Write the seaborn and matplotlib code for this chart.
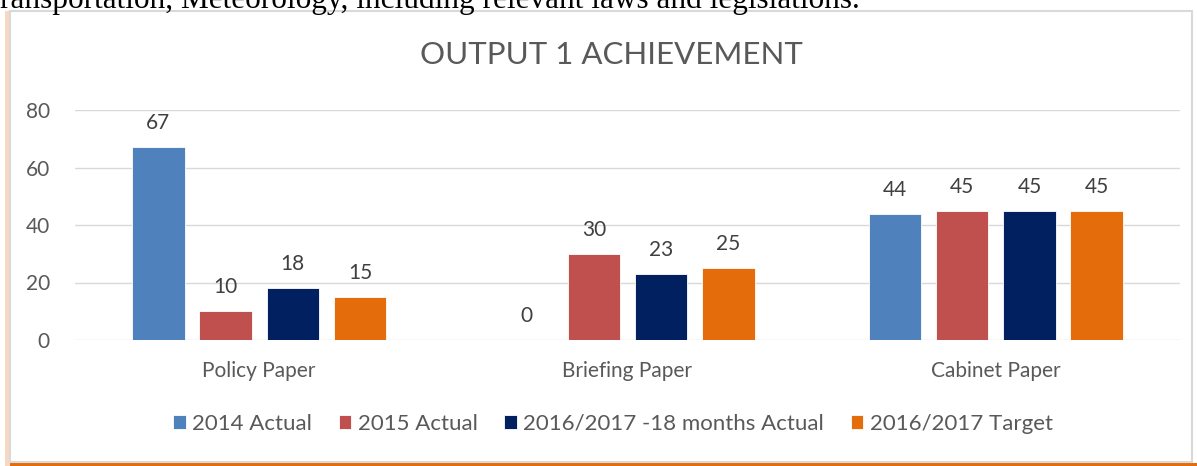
import matplotlib
matplotlib.use("Agg")
import matplotlib.pyplot as plt
from matplotlib.patches import Rectangle
import seaborn as sns
import pandas as pd

categories = ["Policy Paper", "Briefing Paper", "Cabinet Paper"]
series = ["2014 Actual", "2015 Actual", "2016/2017 -18 months Actual", "2016/2017 Target"]
v2014 = [67, 0, 44]
v2015 = [10, 30, 45]
v1618 = [18, 23, 45]
vtarget = [15, 25, 45]
colors = ["#4F81BD", "#C0504D", "#002060", "#E46C0A"]
yticks = [0, 20, 40, 60, 80]

rows = []
for s, vals in zip(series, [v2014, v2015, v1618, vtarget]):
    for c, v in zip(categories, vals):
        rows.append({"category": c, "series": s, "value": v})
df = pd.DataFrame(rows)

sns.set_theme(style="white")
plt.rcParams["font.family"] = ["Lato", "DejaVu Sans"]
txt = "#595959"

fig = plt.figure(figsize=(11.97, 4.66), dpi=100)
W, H = 1197, 466

# frame: orange shadow + grey border
fig.patches.append(Rectangle((5 / W, 0), (1192 - 5) / W, (466 - 11) / H, transform=fig.transFigure,
                             facecolor="#F4B183", edgecolor="none", alpha=0.5, zorder=0))
fig.patches.append(Rectangle((10 / W, 0), 1187 / W, 3 / H, transform=fig.transFigure,
                             facecolor="#E46C0A", edgecolor="none", zorder=0))
fig.patches.append(Rectangle((10 / W, 4 / H), (1192 - 10) / W, (466 - 11 - 4) / H, transform=fig.transFigure,
                             facecolor="white", edgecolor="#D9D9D9", linewidth=1.5, zorder=1))

# cut-off text above the chart
fig.text(0.0, 1 - 8 / H, "ransportation, Meteorology, including relevant laws and legislations.",
         family="Liberation Serif", fontsize=22.5, color="black", ha="left", va="baseline")

ax = fig.add_axes([75 / W, 1 - 340 / H, (1180 - 75) / W, (340 - 110) / H])
ax.set_zorder(2)
ax.patch.set_alpha(0)

sns.barplot(data=df, x="category", y="value", hue="series", palette=colors,
            order=categories, hue_order=series, width=0.73, gap=0.22,
            ax=ax, saturation=1, errorbar=None, edgecolor="white", linewidth=0.6)

for cont in ax.containers:
    ax.bar_label(cont, padding=10, fontsize=15, color="#404040")

ax.set_ylim(0, 80)
ax.set_xlim(-0.5, 2.5)
ax.set_yticks(yticks)
ax.yaxis.grid(True, color="#D9D9D9", linewidth=1)
ax.set_axisbelow(True)
for sp in ax.spines.values():
    sp.set_visible(False)
ax.tick_params(axis="both", length=0, labelsize=15, labelcolor=txt)
ax.tick_params(axis="x", pad=15)
ax.tick_params(axis="y", pad=18)
ax.set_xlabel("")
ax.set_ylabel("")

ax.set_title("")
fig.text(611 / W, 1 - 55 / H, "OUTPUT 1 ACHIEVEMENT", ha="center", va="center",
         fontsize=22.5, color=txt)

handles, labels = ax.get_legend_handles_labels()
ax.legend(handles, labels, loc="center", bbox_to_anchor=(613 / W, 1 - 424 / H),
          bbox_transform=fig.transFigure, ncol=4, frameon=False, fontsize=16,
          labelcolor=txt, handlelength=0.55, handleheight=0.55, handletextpad=0.3,
          columnspacing=1.2)

fig.savefig("out.png", dpi=100)
